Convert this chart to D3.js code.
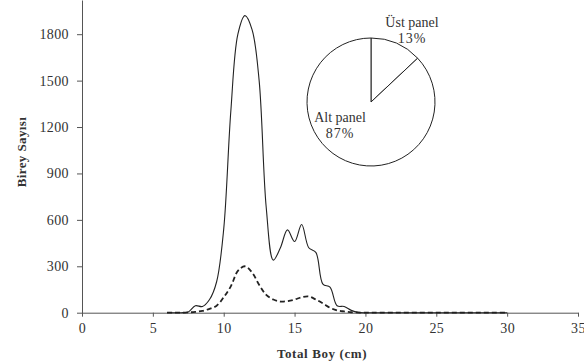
<!DOCTYPE html>
<html><head><meta charset="utf-8">
<script src="https://cdn.jsdelivr.net/npm/d3@7"></script>
<style>
body{margin:0;background:#fff;}
text{font-family:"Liberation Serif","Times New Roman",serif;fill:#333;}
</style></head>
<body><svg id="c" width="584" height="363"></svg>
<script>
const lengths = [6,6.5,7,7.5,8,8.5,9,9.5,10,10.5,11,11.5,12,12.5,13,13.5,14,14.5,15,15.5,16,16.5,17,17.5,18,18.5,19,19.5,20,20.5,21,22,23,24,25,26,27,28,29,30];
const toplam = [0,0,0,5,45,40,85,200,540,1300,1800,1920,1830,1500,680,340,420,535,460,570,420,390,185,165,45,40,15,2,0,0,0,0,0,0,0,0,0,0,0,0];
const ustPanel = [0,0,0,2,5,12,25,45,100,170,270,300,260,180,115,85,72,75,85,100,105,85,60,32,15,8,3,1,0,0,0,0,0,0,0,0,0,0,0,0];
const xTicks = [0,5,10,15,20,25,30,35];
const yTicks = [0,300,600,900,1200,1500,1800];
const pieLabels = ["Üst panel","Alt panel"];
const pieValues = [13,87];

const svg = d3.select("#c");
const x = d3.scaleLinear().domain([0,35]).range([82,578]);
const y = d3.scaleLinear().domain([0,2021]).range([312.7,0]);

// axes
const xAxis = d3.axisBottom(x).tickValues(xTicks).tickFormat(d3.format("d")).tickSize(4).tickPadding(6).tickSizeOuter(0);
const gx = svg.append("g").attr("transform","translate(0,"+y(0)+")").call(xAxis);
const yAxis = d3.axisLeft(y).tickValues(yTicks).tickFormat(d3.format("d")).tickSize(5).tickPadding(8).tickSizeOuter(0);
const gy = svg.append("g").attr("transform","translate("+x(0)+",0)").call(yAxis);
[gx,gy].forEach(g=>{
  g.attr("font-family",null);
  g.selectAll("path,line").attr("stroke","#555").attr("stroke-width",1);
  g.selectAll("text").attr("font-size",14).attr("fill","#444").attr("letter-spacing",0.4).style("font-family","Liberation Serif, serif");
});

// series
const line = d3.line().x((d,i)=>x(lengths[i])).y(d=>y(d)).curve(d3.curveCatmullRom.alpha(0.5));
svg.append("path").datum(ustPanel).attr("d",line).attr("fill","none")
  .attr("stroke","#222").attr("stroke-width",1.8).attr("stroke-dasharray","5,3");
svg.append("path").datum(toplam).attr("d",line).attr("fill","none")
  .attr("stroke","#222").attr("stroke-width",1.1);

// axis titles
svg.append("text").attr("x",322).attr("y",358).attr("text-anchor","middle")
  .attr("font-size",13).attr("font-weight","bold").attr("fill","#222").attr("letter-spacing",0.6).text("Total Boy (cm)");
svg.append("text").attr("transform","translate(26,152) rotate(-90)").attr("text-anchor","middle")
  .attr("font-size",13).attr("font-weight","bold").attr("fill","#222").attr("letter-spacing",0.4).text("Birey Sayısı");

// pie
const cx=371, cy=102, r=64;
const pie = d3.pie().sort(null)(pieValues);
const arc = d3.arc().innerRadius(0).outerRadius(r);
const gp = svg.append("g").attr("transform","translate("+cx+","+cy+")");
gp.selectAll("path").data(pie).join("path").attr("d",arc)
  .attr("fill","#fff").attr("stroke","#222").attr("stroke-width",1);
const labelPos = [[41,-75],[-31,20]];
pie.forEach((p,i)=>{
  const t = gp.append("text").attr("text-anchor","middle").attr("font-size",14).attr("fill","#333");
  t.append("tspan").attr("x",labelPos[i][0]).attr("y",labelPos[i][1]).text(pieLabels[i]);
  t.append("tspan").attr("x",labelPos[i][0]).attr("y",labelPos[i][1]+16).attr("letter-spacing",1).text(pieValues[i]+"%");
});
</script></body></html>
